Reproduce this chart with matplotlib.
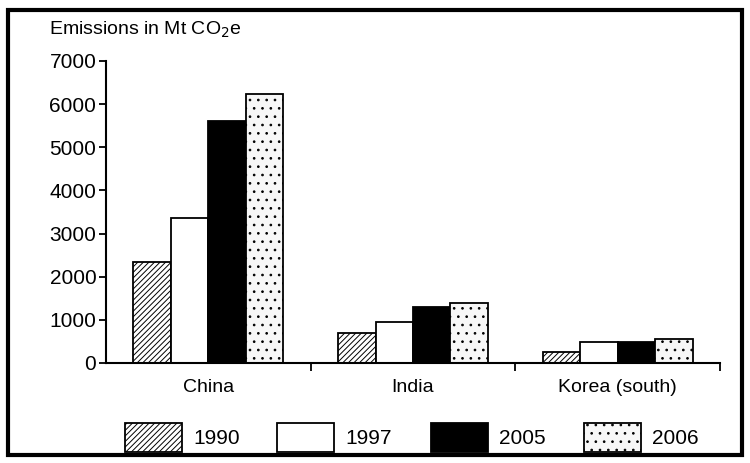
import numpy as np
import matplotlib.pyplot as plt
from matplotlib.patches import Rectangle

countries = ['China', 'India', 'Korea (south)']
years = ['1990', '1997', '2005', '2006']
emissions = {
    '1990': [2350, 690, 250],
    '1997': [3350, 950, 480],
    '2005': [5600, 1290, 480],
    '2006': [6230, 1390, 550],
}
y_ticks = [0, 1000, 2000, 3000, 4000, 5000, 6000, 7000]

plt.rcParams['font.family'] = ['Liberation Sans', 'DejaVu Sans']
plt.rcParams['hatch.linewidth'] = 0.7

styles = {
    '1990': dict(facecolor='white', hatch='//////'),
    '1997': dict(facecolor='white', hatch=None),
    '2005': dict(facecolor='black', hatch=None),
    '2006': dict(facecolor='#f7f7f7', hatch='..'),
}

W, H = 750, 463
fig = plt.figure(figsize=(7.5, 4.63), dpi=100)
# axes box in pixels: x 106..720, y 61..363
ax = fig.add_axes([106 / W, 1 - 363 / H, (720 - 106) / W, (363 - 61) / H])

x = np.arange(len(countries))
width = 0.183
for i, yr in enumerate(years):
    st = styles[yr]
    ax.bar(x + (i - 1.5) * width, emissions[yr], width, facecolor=st['facecolor'],
           edgecolor='black', hatch=st['hatch'], linewidth=1.3)

ax.set_xlim(-0.5, 2.5)
ax.set_ylim(0, 7000)
ax.set_yticks(y_ticks)
ax.set_yticklabels([str(v) for v in y_ticks], fontsize=15)
ax.set_xticks([0.5, 1.5, 2.5])
ax.set_xticklabels([])
ax.tick_params(axis='x', length=6, width=1.3, direction='out')
ax.tick_params(axis='y', length=5, width=1.3, direction='out', pad=2)
for i, c in enumerate(countries):
    ax.text(x[i], -380, c, ha='center', va='top', fontsize=14)
ax.spines['top'].set_visible(False)
ax.spines['right'].set_visible(False)
ax.spines['left'].set_linewidth(1.5)
ax.spines['bottom'].set_linewidth(1.5)

fig.text(49 / W, 1 - 30 / H, 'Emissions in Mt CO$_2$e', fontsize=14, va='center', ha='left')

# legend drawn by hand, boxes at these pixel left edges
leg_x = [125, 277, 431, 584]
for lx, yr in zip(leg_x, years):
    st = styles[yr]
    fig.add_artist(Rectangle((lx / W, 1 - 452 / H), 57 / W, 29 / H, transform=fig.transFigure,
                             facecolor=st['facecolor'], edgecolor='black', hatch=st['hatch'],
                             linewidth=1.3))
    fig.text((lx + 68) / W, 1 - 438 / H, yr, fontsize=15, va='center', ha='left')

fig.add_artist(Rectangle((0.011, 0.017), 0.978, 0.962, transform=fig.transFigure,
                         fill=False, edgecolor='black', linewidth=3))

fig.savefig('out.png', dpi=100)
